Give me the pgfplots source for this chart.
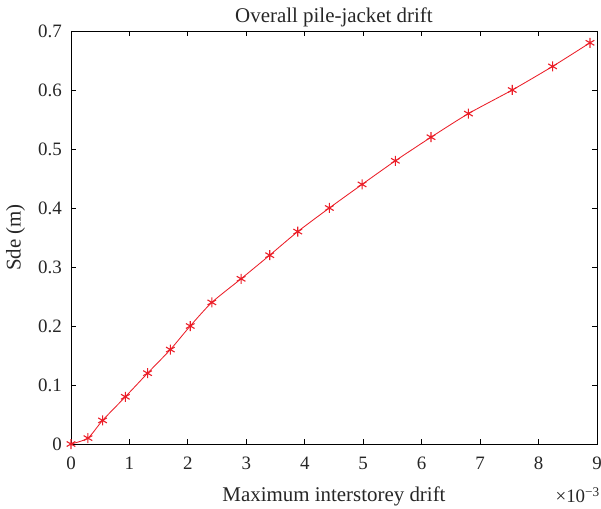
\documentclass[border=0pt]{standalone}
\usepackage{fontspec}
\setmainfont{Liberation Serif}
\usepackage{pgfplots}
\pgfplotsset{compat=1.18}
\definecolor{mred}{RGB}{235,30,40}
\begin{document}
\begin{tikzpicture}
\useasboundingbox (-71bp,-65bp) rectangle (530bp,444bp);
\begin{axis}[
  at={(0,0)}, anchor=south west,
  scale only axis,
  width=526bp, height=413bp,
  xmin=0, xmax=9, ymin=0, ymax=0.7,
  xtick={0,1,...,9},
  ytick={0,0.1,...,0.7},
  /pgf/number format/assume math mode=true,
  tick align=inside,
  major tick length=5bp,
  axis line style={line width=0.9pt},
  tick style={line width=0.9pt,black},
  ticklabel style={font=\fontsize{19}{22}\selectfont, inner sep=0pt, text=black!85},
  xticklabel style={anchor=north, yshift=-12.5bp},
  yticklabel style={anchor=east, xshift=-9bp, /pgf/number format/fixed, /pgf/number format/precision=1},
  every axis title shift/.style={yshift=0pt},
  title={Overall pile-jacket drift},
  title style={font=\fontsize{21}{24}\selectfont, at={(axis description cs:0.5,1)}, anchor=base, yshift=3bp, inner sep=0pt, text=black!85},
  xlabel={Maximum interstorey drift},
  ylabel={Sde (m)},
  label style={font=\fontsize{21}{24}\selectfont, inner sep=0pt, text=black!85},
  xlabel style={at={(axis description cs:0.5,0)}, anchor=base, yshift=-57.7bp},
  ylabel style={at={(axis description cs:-0.1055,0.5)}, anchor=center},
  clip=false,
]
\addplot[mred, line width=0.85pt, smooth, tension=0.4, mark=asterisk, mark size=5bp, mark options={line width=1.1pt}] coordinates {
(0,0)
(0.29,0.01)
(0.54,0.04)
(0.93,0.08)
(1.31,0.12)
(1.70,0.16)
(2.04,0.20)
(2.41,0.24)
(2.91,0.28)
(3.40,0.32)
(3.88,0.36)
(4.42,0.40)
(4.98,0.44)
(5.55,0.48)
(6.16,0.52)
(6.80,0.56)
(7.55,0.60)
(8.24,0.64)
(8.88,0.68)
};
\node[anchor=base east, font=\fontsize{19}{22}\selectfont, inner sep=0pt, text=black!85] at (rel axis cs:1,0) [xshift=3bp, yshift=-58.7bp] {×10\textsuperscript{−3}};
\end{axis}
\end{tikzpicture}
\end{document}
